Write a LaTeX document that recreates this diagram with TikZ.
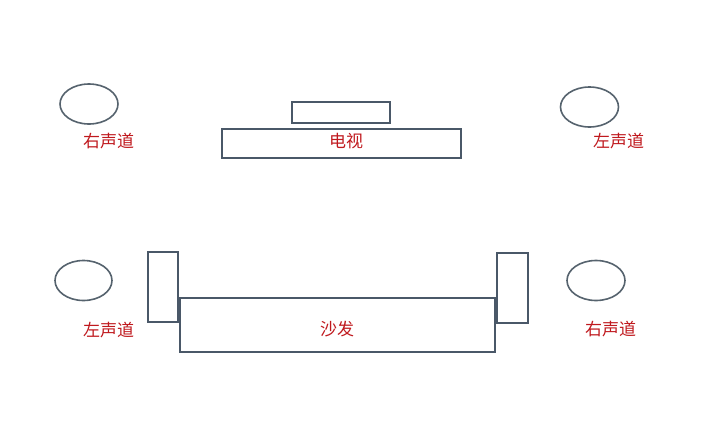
\documentclass[tikz,border=0pt]{standalone}
\usepackage{fontspec}
\newfontfamily\cjk{Noto Sans CJK SC}
\definecolor{boxc}{HTML}{4A5868}
\definecolor{ellc}{HTML}{56636E}
\definecolor{txtc}{HTML}{C0191E}
\begin{document}
\begin{tikzpicture}[x=1pt,y=-1pt,
  furn/.style={draw=boxc,line width=2pt,fill=white},
  spk/.style={draw=ellc,line width=1.6pt,fill=white},
  lbl/.style={text=txtc,font=\cjk\fontsize{17}{19}\selectfont,inner sep=0pt}]
\path[fill=white,use as bounding box] (0,0) rectangle (704,434);
% TV
\draw[furn] (292,102) rectangle (390,123);
\draw[furn] (222,129) rectangle (461,158);
\node[lbl] (tv) at (346,141) {电视};
% sofa
\draw[furn] (148,252) rectangle (178,322);
\draw[furn] (497,253) rectangle (528,323);
\draw[furn] (180,298) rectangle (495,352);
\node[lbl] (sofa) at (337,329.5) {沙发};
% speakers
\draw[spk] (89,104) ellipse [x radius=29, y radius=20];
\node[lbl] (tl) at (108.5,141) {右声道};
\draw[spk] (589.5,107) ellipse [x radius=29, y radius=20];
\node[lbl] (tr) at (618.5,141) {左声道};
\draw[spk] (83.5,280.5) ellipse [x radius=28.5, y radius=20];
\node[lbl] (bl) at (108.5,330) {左声道};
\draw[spk] (596,280.5) ellipse [x radius=29, y radius=20];
\node[lbl] (br) at (610.5,329) {右声道};
\end{tikzpicture}
\end{document}
